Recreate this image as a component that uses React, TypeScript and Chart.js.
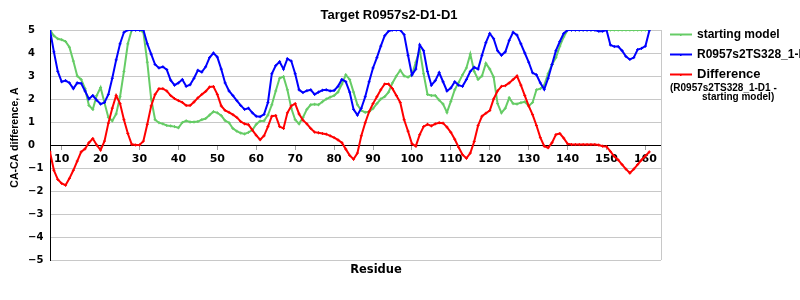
import React, { useEffect, useRef } from "react";
import { Chart, registerables } from "chart.js";

Chart.register(...registerables);

// ---------- data ----------
const residues = [
  7, 8, 9, 10, 11, 12, 13, 14, 15, 16,
  17, 18, 19, 20, 21, 22, 23, 24, 25, 26,
  27, 28, 29, 30, 31, 32, 33, 34, 35, 36,
  37, 38, 39, 40, 41, 42, 43, 44, 45, 46,
  47, 48, 49, 50, 51, 52, 53, 54, 55, 56,
  57, 58, 59, 60, 61, 62, 63, 64, 65, 66,
  67, 68, 69, 70, 71, 72, 73, 74, 75, 76,
  77, 78, 79, 80, 81, 82, 83, 84, 85, 86,
  87, 88, 89, 90, 91, 92, 93, 94, 95, 96,
  97, 98, 99, 100, 101, 102, 103, 104, 105, 106,
  107, 108, 109, 110, 111, 112, 113, 114, 115, 116,
  117, 118, 119, 120, 121, 122, 123, 124, 125, 126,
  127, 128, 129, 130, 131, 132, 133, 134, 135, 136,
  137, 138, 139, 140, 141, 142, 143, 144, 145, 146,
  147, 148, 149, 150, 151, 152, 153, 154, 155, 156,
  157, 158, 159, 160, 161,
];

const startingModel = [
  5.0, 4.75, 4.62, 4.58, 4.5, 4.25, 3.65, 3.0, 2.85, 2.45,
  1.72, 1.55, 2.15, 2.5, 1.84, 1.2, 1.05, 1.35, 2.1, 3.2,
  4.4, 5, 5, 5, 4.9, 3.6, 2.0, 1.1, 0.97, 0.92,
  0.85, 0.83, 0.8, 0.75, 0.98, 1.05, 1.0, 1.0, 1.02, 1.1,
  1.15, 1.3, 1.45, 1.4, 1.28, 1.06, 0.97, 0.72, 0.6, 0.52,
  0.48, 0.55, 0.65, 0.9, 1.04, 1.05, 1.3, 1.75, 2.35, 2.9,
  2.97, 2.4, 1.6, 1.1, 0.92, 1.2, 1.55, 1.75, 1.77, 1.75,
  1.88, 2.0, 2.08, 2.15, 2.3, 2.65, 3.05, 2.85, 2.3, 1.75,
  1.5, 1.42, 1.45, 1.58, 1.8, 2.0, 2.1, 2.3, 2.7, 3.0,
  3.25, 3.0, 2.95, 3.05, 3.6, 4.15, 3.1, 2.2, 2.15, 2.15,
  1.95, 1.78, 1.42, 1.9, 2.4, 2.72, 3.05, 3.35, 3.95, 3.2,
  2.85, 3.0, 3.55, 3.3, 2.95, 1.8, 1.4, 1.6, 2.05, 1.8,
  1.78, 1.84, 1.88, 1.7, 1.85, 2.4, 2.45, 2.6, 3.1, 3.5,
  3.8, 4.3, 4.7, 5, 5, 5, 5, 5, 5, 5,
  5, 5, 5, 5, 5, 5, 5, 5, 5, 5,
  5, 5, 5, 5, 5,
];

const modelTS328 = [
  5.0, 4.05, 3.2, 2.75, 2.8, 2.7, 2.45, 2.7, 2.68, 2.35,
  2.0, 2.15, 1.95, 1.78, 1.85, 2.2, 2.9, 3.7, 4.4, 4.9,
  5, 5, 5, 5, 5, 4.4, 3.95, 3.5, 3.35, 3.4,
  3.28, 2.82, 2.6, 2.7, 2.85, 2.55, 2.62, 2.9, 3.25, 3.17,
  3.4, 3.8, 4.0, 3.82, 3.3, 2.7, 2.35, 2.15, 1.93, 1.72,
  1.55, 1.6, 1.4, 1.25, 1.23, 1.33, 1.85, 3.1, 3.45, 3.62,
  3.3, 3.75, 3.65, 3.1, 2.4, 2.28, 2.36, 2.4, 2.2, 2.3,
  2.38, 2.4, 2.35, 2.37, 2.55, 2.85, 2.75, 2.3, 1.55, 1.3,
  1.6, 2.1, 2.75, 3.35, 3.8, 4.3, 4.75, 4.95, 5, 5,
  5, 4.8, 3.9, 3.05, 3.3, 4.35, 4.1, 3.2, 2.6, 2.8,
  3.15, 2.75, 2.35, 2.48, 2.75, 2.6, 2.55, 2.85, 3.2, 3.38,
  3.3, 3.9, 4.45, 4.85, 4.62, 4.1, 3.9, 4.05, 4.55, 4.9,
  4.78, 4.4, 4.0, 3.6, 3.14, 3.05, 2.7, 2.42, 2.9, 3.5,
  4.1, 4.5, 4.85, 5, 5, 5, 5, 5, 5, 5,
  5, 4.95, 4.95, 5, 4.35, 4.28, 4.28, 4.1, 3.85, 3.72,
  3.8, 4.15, 4.2, 4.3, 4.97,
];

const difference = [
  -0.3, -1.1, -1.5, -1.67, -1.75, -1.45, -1.1, -0.7, -0.3, -0.17,
  0.1, 0.28, 0.0, -0.22, 0.17, 0.95, 1.6, 2.15, 1.8, 1.1,
  0.5, 0.03, 0.0, 0.0, 0.17, 0.9, 1.7, 2.2, 2.45, 2.45,
  2.35, 2.15, 2.02, 1.93, 1.85, 1.72, 1.72, 1.87, 2.05, 2.2,
  2.33, 2.52, 2.54, 2.2, 1.7, 1.5, 1.42, 1.32, 1.2, 1.02,
  0.92, 0.88, 0.65, 0.42, 0.23, 0.4, 0.8, 1.25, 1.28, 0.8,
  0.72, 1.4, 1.7, 1.8, 1.35, 1.08, 0.92, 0.72, 0.56, 0.53,
  0.5, 0.47, 0.4, 0.32, 0.22, 0.1, -0.18, -0.45, -0.62, -0.35,
  0.4, 0.97, 1.45, 1.8, 2.1, 2.4, 2.65, 2.65, 2.45, 2.15,
  1.85, 1.1, 0.6, 0.05, -0.05, 0.45, 0.8, 0.9, 0.83, 0.92,
  0.97, 0.95, 0.78, 0.55, 0.25, -0.1, -0.42, -0.58, -0.35, 0.15,
  0.85, 1.25, 1.38, 1.5, 2.0, 2.35, 2.55, 2.58, 2.7, 2.85,
  3.0, 2.6, 2.15, 1.7, 1.32, 0.85, 0.32, -0.05, -0.12, 0.1,
  0.45, 0.5, 0.3, 0.05, 0.02, 0.02, 0.02, 0.02, 0.02, 0.02,
  0.02, 0.0, -0.05, -0.07, -0.28, -0.5, -0.65, -0.85, -1.05, -1.22,
  -1.05, -0.85, -0.65, -0.48, -0.3,
];

const xTickValues = [10, 20, 30, 40, 50, 60, 70, 80, 90, 100, 110, 120, 130, 140, 150, 160];
const yTickValues = [-5, -4, -3, -2, -1, 0, 1, 2, 3, 4, 5];

const chartTitle = "Target R0957s2-D1-D1";
const xTitle = "Residue";
const yTitle = "CA-CA difference, A";
const seriesNames = ["starting model", "R0957s2TS328_1-D1", "Difference"];
const diffNote = ["(R0957s2TS328_1-D1 -", "starting model)"];

const GREEN = "#66cc66";
const BLUE = "#0000ff";
const RED = "#ff0000";
const GRID = "#c8c8c8";

const toPoints = (vals: number[]) => residues.map((r, i) => ({ x: r, y: vals[i] }));

const decorPlugin = {
  id: "decor",
  afterDraw(chart: any) {
    const ctx = chart.ctx as CanvasRenderingContext2D;
    const area = chart.chartArea;
    ctx.save();
    // right frame line
    ctx.strokeStyle = GRID;
    ctx.lineWidth = 1;
    ctx.beginPath();
    ctx.moveTo(Math.round(area.right) + 0.5, area.top);
    ctx.lineTo(Math.round(area.right) + 0.5, area.bottom);
    ctx.stroke();

    ctx.fillStyle = "#000";
    // title
    ctx.font = 'bold 13px "Liberation Sans"';
    ctx.textAlign = "center";
    ctx.textBaseline = "middle";
    ctx.fillText(chartTitle, 389, 15.5);

    // x title
    ctx.font = 'bold 11.5px "DejaVu Sans"';
    ctx.fillText(xTitle, 376, 270);

    // y title
    ctx.save();
    ctx.translate(15, 137.5);
    ctx.rotate(-Math.PI / 2);
    ctx.font = 'bold 10.5px "Liberation Sans"';
    ctx.fillText(yTitle, 0, 0);
    ctx.restore();

    // legend
    const colors = [GREEN, BLUE, RED];
    const ys = [34.5, 54.5, 74.5];
    for (let i = 0; i < 3; i++) {
      ctx.strokeStyle = colors[i];
      ctx.lineWidth = 2;
      ctx.beginPath();
      ctx.moveTo(670, ys[i]);
      ctx.lineTo(692, ys[i]);
      ctx.stroke();
      ctx.fillStyle = colors[i];
      ctx.fillRect(680, ys[i] - 0.5, 1.5, 2);
    }
    ctx.fillStyle = "#000";
    ctx.textAlign = "left";
    ctx.textBaseline = "middle";
    ctx.font = 'bold 12px "Liberation Sans"';
    ctx.fillText(seriesNames[0], 697, 35);
    ctx.fillText(seriesNames[1], 697, 55);
    ctx.font = 'bold 13px "Liberation Sans"';
    ctx.fillText(seriesNames[2], 697, 74.5);
    ctx.font = 'bold 10px "Liberation Sans"';
    ctx.fillText(diffNote[0], 670, 88);
    ctx.fillText(diffNote[1], 702, 97.5);
    ctx.restore();
  },
};

export default function App() {
  const ref = useRef<HTMLCanvasElement | null>(null);

  useEffect(() => {
    document.body.style.margin = "0";
    const canvas = ref.current;
    if (!canvas) return;
    const mk = (label: string, vals: number[], color: string, order: number) => ({
      label,
      data: toPoints(vals),
      borderColor: color,
      backgroundColor: color,
      borderWidth: 2,
      pointRadius: 1.5,
      pointStyle: "cross",
      pointBorderWidth: 1,
      pointBorderColor: color,
      tension: 0,
      fill: false,
      order,
    });
    const chart = new Chart(canvas, {
      type: "line",
      data: {
        datasets: [
          mk(seriesNames[2], difference, RED, 0),
          mk(seriesNames[1], modelTS328, BLUE, 1),
          mk(seriesNames[0], startingModel, GREEN, 2),
        ],
      },
      options: {
        animation: false,
        responsive: false,
        maintainAspectRatio: false,
        events: [],
        layout: { padding: { left: 28, top: 30, right: 139, bottom: 40 } },
        plugins: {
          legend: { display: false },
          title: { display: false },
          tooltip: { enabled: false },
        },
        scales: {
          x: {
            type: "linear",
            min: 7,
            max: 164,
            position: { y: 0 } as any,
            afterBuildTicks: (s: any) => {
              s.ticks = xTickValues.map((v) => ({ value: v }));
            },
            afterFit: (s: any) => {
              s.height = 0;
            },
            grid: {
              drawOnChartArea: false,
              drawTicks: true,
              tickLength: 4,
              color: "#a0a0a0",
            },
            border: { display: true, color: "#000", width: 1 },
            ticks: {
              padding: 4,
              maxRotation: 0,
              autoSkip: false,
              color: "#000",
              font: { family: "DejaVu Sans", size: 11, weight: "bold" },
              callback: (v: any) => String(v),
            },
          },
          y: {
            type: "linear",
            min: -5,
            max: 5,
            afterBuildTicks: (s: any) => {
              s.ticks = yTickValues.map((v) => ({ value: v }));
            },
            afterFit: (s: any) => {
              s.width = 22;
            },
            grid: {
              drawOnChartArea: true,
              drawTicks: false,
              color: GRID,
              lineWidth: 1,
            },
            border: { display: true, color: "#000", width: 1 },
            ticks: {
              crossAlign: "far",
              padding: 4,
              color: "#000",
              font: { family: "DejaVu Sans", size: 10, weight: "bold" },
              callback: (v: any) => (Number(v) < 0 ? "\u2212" + Math.abs(Number(v)) : String(v)),
            },
          },
        },
      },
      plugins: [decorPlugin],
    } as any);
    return () => chart.destroy();
  }, []);

  return <canvas ref={ref} width={800} height={300} style={{ display: "block", width: 800, height: 300 }} />;
}
